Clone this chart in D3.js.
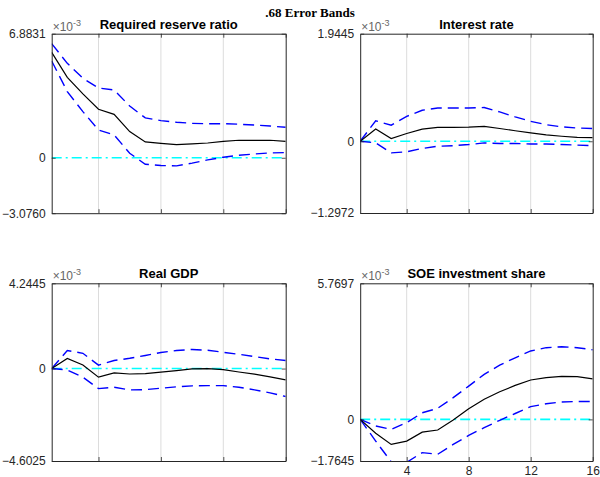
<!DOCTYPE html>
<html>
<head>
<meta charset="utf-8">
<script src="https://cdn.jsdelivr.net/npm/d3@7"></script>
<style>
  html, body { margin: 0; padding: 0; background: #fff; }
  svg { display: block; }
</style>
</head>
<body>
<svg id="chart" width="600" height="477"></svg>
<script>
// Impulse responses with .68 error bands, horizons 1..16 (values in units of 1e-3)
const horizons = [1, 2, 3, 4, 5, 6, 7, 8, 9, 10, 11, 12, 13, 14, 15, 16];
const xTicks = [4, 8, 12, 16];

const rrrMedian = [5.85, 4.46, 3.54, 2.69, 2.41, 1.45, 0.88, 0.80, 0.73, 0.77, 0.82, 0.91, 0.97, 0.97, 0.97, 0.91];
const rrrUpper  = [6.33, 5.24, 4.41, 3.87, 3.76, 2.87, 2.21, 2.06, 1.97, 1.91, 1.89, 1.89, 1.86, 1.82, 1.76, 1.69];
const rrrLower  = [5.37, 3.67, 2.56, 1.54, 1.27, 0.25, -0.36, -0.43, -0.45, -0.30, -0.12, 0.03, 0.14, 0.21, 0.27, 0.29];
const rrrTicks  = [-3.0760, 0, 6.8831];

const rateMedian = [0, 0.22, 0.05, 0.14, 0.22, 0.25, 0.25, 0.255, 0.27, 0.23, 0.19, 0.15, 0.115, 0.09, 0.07, 0.065];
const rateUpper  = [0, 0.37, 0.29, 0.45, 0.56, 0.60, 0.60, 0.60, 0.61, 0.53, 0.44, 0.36, 0.30, 0.26, 0.24, 0.23];
const rateLower  = [0, -0.03, -0.21, -0.19, -0.13, -0.09, -0.08, -0.06, -0.03, -0.04, -0.04, -0.05, -0.05, -0.06, -0.07, -0.08];
const rateTicks  = [-1.2972, 0, 1.9445];

const gdpMedian = [0, 0.50, 0.18, -0.43, -0.22, -0.27, -0.25, -0.18, -0.10, -0.02, 0, -0.05, -0.17, -0.28, -0.41, -0.56];
const gdpUpper  = [0, 0.90, 0.76, 0.17, 0.40, 0.51, 0.65, 0.80, 0.90, 0.95, 0.91, 0.81, 0.71, 0.60, 0.48, 0.40];
const gdpLower  = [0, -0.07, -0.43, -1.00, -0.93, -1.06, -1.05, -0.98, -0.91, -0.86, -0.85, -0.85, -0.93, -1.06, -1.21, -1.39];
const gdpTicks  = [-4.6025, 0, 4.2445];

const soeMedian = [0, -0.59, -1.06, -0.92, -0.54, -0.45, -0.03, 0.45, 0.85, 1.17, 1.44, 1.67, 1.77, 1.82, 1.81, 1.72];
const soeUpper  = [0, -0.28, -0.42, -0.14, 0.28, 0.47, 0.92, 1.41, 1.91, 2.30, 2.61, 2.90, 3.04, 3.08, 3.04, 2.95];
const soeLower  = [0, -0.92, -1.80, -1.82, -1.41, -1.48, -1.06, -0.68, -0.35, -0.04, 0.25, 0.54, 0.66, 0.74, 0.76, 0.76];
const soeTicks  = [-1.7645, 0, 5.7697];

const titles = ["Required reserve ratio", "Interest rate", "Real GDP", "SOE investment share"];

const panels = [
  { title: titles[0], median: rrrMedian,  upper: rrrUpper,  lower: rrrLower,  yTicks: rrrTicks,  box: [51.7, 285.7, 33.7, 213.2], xLabels: false },
  { title: titles[1], median: rateMedian, upper: rateUpper, lower: rateLower, yTicks: rateTicks, box: [360.2, 592.7, 33.7, 213.0], xLabels: false },
  { title: titles[2], median: gdpMedian,  upper: gdpUpper,  lower: gdpLower,  yTicks: gdpTicks,  box: [51.7, 285.7, 283.3, 461], xLabels: false },
  { title: titles[3], median: soeMedian,  upper: soeUpper,  lower: soeLower,  yTicks: soeTicks,  box: [360.2, 592.7, 283.3, 461], xLabels: true }
];

const svg = d3.select("#chart");
const axisColor = "#262626";
const sans = "'Liberation Sans', Arial, Helvetica, sans-serif";

svg.append("text")
  .attr("x", 310).attr("y", 17)
  .attr("text-anchor", "middle")
  .style("font-family", "'Liberation Serif', 'Times New Roman', serif")
  .style("font-weight", "bold")
  .style("font-size", "13px")
  .text(".68 Error Bands");

panels.forEach((p, i) => {
  const [x0, x1, y0, y1] = p.box;
  const x = d3.scaleLinear().domain([horizons[0], horizons[horizons.length - 1]]).range([x0, x1]);
  const y = d3.scaleLinear().domain([p.yTicks[0], p.yTicks[2]]).range([y1, y0]);
  const g = svg.append("g");

  const clipId = "clip" + i;
  svg.append("clipPath").attr("id", clipId)
    .append("rect").attr("x", x0).attr("y", y0).attr("width", x1 - x0).attr("height", y1 - y0);

  // vertical grid
  g.selectAll(".grid").data(xTicks.filter(t => t < horizons[horizons.length - 1]))
    .enter().append("line")
    .attr("x1", d => x(d)).attr("x2", d => x(d))
    .attr("y1", y0).attr("y2", y1)
    .attr("stroke", "#dcdcdc").attr("stroke-width", 1);

  const plot = g.append("g").attr("clip-path", `url(#${clipId})`);
  const line = d3.line().x((d, k) => x(horizons[k])).y(d => y(d));

  // zero reference
  plot.append("line")
    .attr("x1", x0).attr("x2", x1)
    .attr("y1", y(0)).attr("y2", y(0))
    .attr("stroke", "#00ffff").attr("stroke-width", 1.6)
    .attr("stroke-dasharray", "10,4,2,4");

  [p.upper, p.lower].forEach(band => {
    plot.append("path").datum(band)
      .attr("d", line)
      .attr("fill", "none")
      .attr("stroke", "#0000ff").attr("stroke-width", 1.4)
      .attr("stroke-dasharray", "11,6");
  });

  plot.append("path").datum(p.median)
    .attr("d", line)
    .attr("fill", "none")
    .attr("stroke", "#000").attr("stroke-width", 1.2);

  // y axis (left) with inward ticks
  const yAxis = d3.axisLeft(y).tickValues(p.yTicks)
    .tickFormat(d => d === 0 ? "0" : d3.format(".4f")(d))
    .tickSizeInner(-4).tickSizeOuter(0).tickPadding(6);
  const ya = g.append("g").attr("transform", `translate(${x0},0)`).call(yAxis);

  // x axis (bottom) with inward ticks
  const xAxis = d3.axisBottom(x).tickValues(xTicks)
    .tickFormat(p.xLabels ? d3.format("d") : () => "")
    .tickSizeInner(-4).tickSizeOuter(0).tickPadding(5);
  const xa = g.append("g").attr("transform", `translate(0,${y1})`).call(xAxis);

  // top edge ticks
  const xTop = d3.axisTop(x).tickValues(xTicks).tickFormat(() => "")
    .tickSizeInner(-4).tickSizeOuter(0);
  const xt = g.append("g").attr("transform", `translate(0,${y0})`).call(xTop);

  // right edge ticks
  const yRight = d3.axisRight(y).tickValues(p.yTicks).tickFormat(() => "")
    .tickSizeInner(-4).tickSizeOuter(0);
  const yr = g.append("g").attr("transform", `translate(${x1},0)`).call(yRight);

  [ya, xa, xt, yr].forEach(a => {
    a.select(".domain").attr("stroke", axisColor).attr("stroke-width", 1);
    a.selectAll(".tick line").attr("stroke", axisColor).attr("stroke-width", 0.8);
    a.selectAll("text").attr("fill", axisColor)
      .style("font-family", sans).style("font-size", "12px");
  });

  // exponent label
  const ex = g.append("text")
    .attr("x", x0 + 1).attr("y", y0 - 3)
    .attr("fill", "#666")
    .style("font-family", sans).style("font-size", "12px");
  ex.append("tspan").text("\u00d710");
  ex.append("tspan").attr("dy", -5).style("font-size", "9px").text("-3");

  // panel title
  g.append("text")
    .attr("x", (x0 + x1) / 2).attr("y", y0 - 5)
    .attr("text-anchor", "middle")
    .attr("fill", "#000")
    .style("font-family", sans).style("font-weight", "bold").style("font-size", "13px")
    .text(p.title);
});
</script>
</body>
</html>
